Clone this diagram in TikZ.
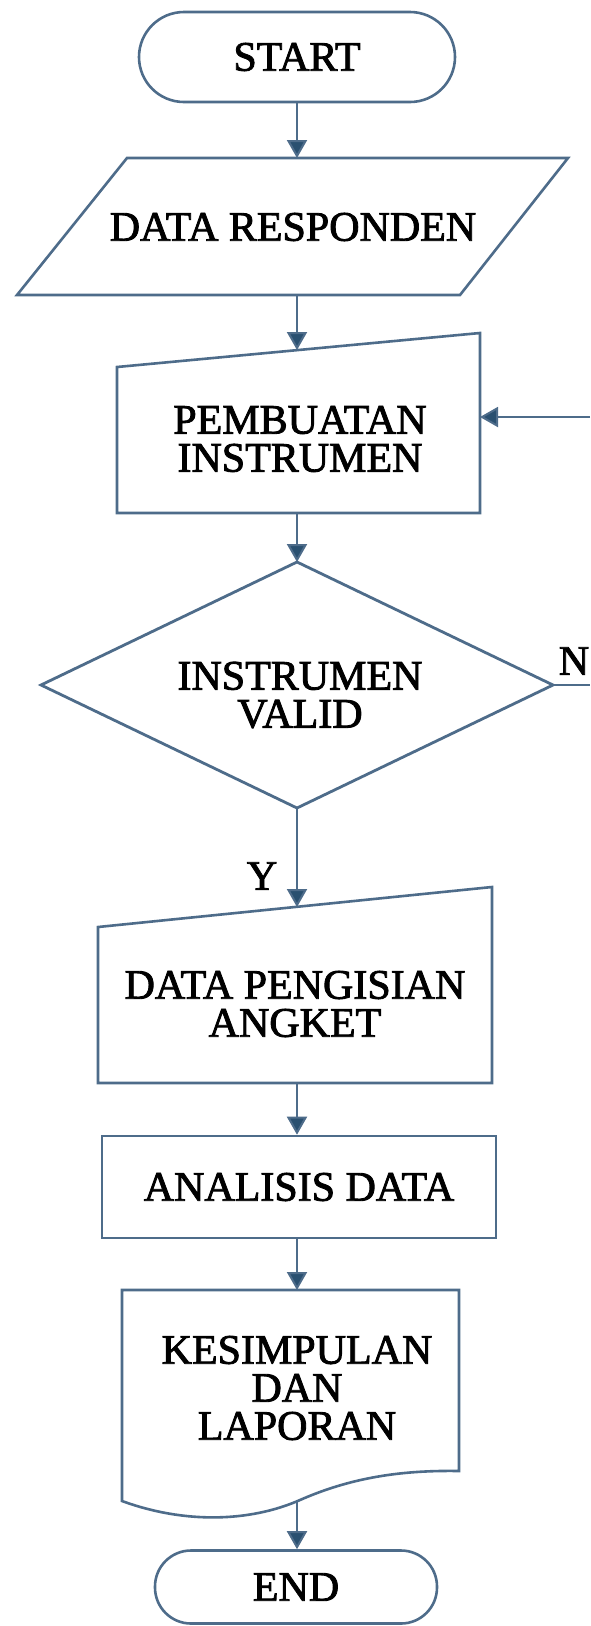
\documentclass[tikz,border=0pt]{standalone}
\usepackage{fontspec}
\setmainfont{Liberation Serif}
\newfontfamily\lblfont{Liberation Serif}[FakeBold=2]
\usetikzlibrary{arrows.meta}
\definecolor{linecol}{RGB}{78,108,138}
\definecolor{tipcol}{RGB}{42,80,112}
\begin{document}
\begin{tikzpicture}[x=1pt,y=-1pt,
  shapeline/.style={draw=linecol, line width=2.6pt, line join=miter},
  conn/.style={draw=linecol, line width=2pt, -{Triangle[width=20pt,length=18pt,fill=tipcol]}},
  plainconn/.style={draw=linecol, line width=2pt},
  lbl/.style={font=\lblfont\fontsize{42}{38}\selectfont, align=center, inner sep=0pt, text=black},
  pill/.style={shapeline, lbl, rounded corners=45pt}]
\fill[white] (0,0) rectangle (590,1626);
\useasboundingbox (0,0) rectangle (590,1626);

% START
\node[pill, minimum width=316pt, minimum height=90pt] (start) at (297,57) {START};

% DATA RESPONDEN (parallelogram)
\draw[shapeline] (17,295) -- (127,158) -- (568,158) -- (460,295) -- cycle;
\node[lbl] (resp) at (293,227) {DATA RESPONDEN};
\coordinate (resp-n) at (297,158);
\coordinate (resp-s) at (297,295);

% PEMBUATAN INSTRUMEN (manual input)
\draw[shapeline] (117,367) -- (480,333) -- (480,513) -- (117,513) -- cycle;
\node[lbl] (pemb) at (300,439) {PEMBUATAN\\INSTRUMEN};
\coordinate (pemb-n) at (297,350);
\coordinate (pemb-s) at (297,513);
\coordinate (pemb-e) at (480,417);

% INSTRUMEN VALID (decision)
\draw[shapeline, line width=2.8pt] (297,562) -- (553,685) -- (297,808) -- (41,685) -- cycle;
\node[lbl] (valid) at (300,695) {INSTRUMEN\\VALID};
\coordinate (valid-n) at (297,562);
\coordinate (valid-s) at (297,808);
\coordinate (valid-e) at (553,685);

% DATA PENGISIAN ANGKET (manual input)
\draw[shapeline] (98,927) -- (492,887) -- (492,1083) -- (98,1083) -- cycle;
\node[lbl] (peng) at (295,1004) {DATA PENGISIAN\\ANGKET};
\coordinate (peng-n) at (297,907);
\coordinate (peng-s) at (297,1083);

% ANALISIS DATA
\node[shapeline, lbl, minimum width=394pt, minimum height=102pt] (anal) at (299,1187) {ANALISIS DATA};

% KESIMPULAN DAN LAPORAN (document)
\draw[shapeline] (459,1471) -- (459,1290) -- (122,1290) -- (122,1501)
  .. controls (185,1524) and (250,1522) .. (300,1500)
  .. controls (350,1478) and (400,1470) .. (459,1471) -- cycle;
\node[lbl] (kes) at (297,1388) {KESIMPULAN\\DAN\\LAPORAN};
\coordinate (kes-n) at (297,1290);
\coordinate (kes-s) at (297,1501);

% END
\node[pill, rounded corners=36pt, minimum width=282pt, minimum height=73pt] (end) at (296,1587) {END};

% labels
\node[lbl] (nlab) at (574,661) {N};
\node[lbl] (ylab) at (262,876) {Y};

% connectors
\coordinate (ret-in) at (590,417);
\coordinate (ret-out) at (590,685);
\draw[conn] (start.south) -- (resp-n);
\draw[conn] (resp-s) -- (pemb-n);
\draw[conn] (pemb-s) -- (valid-n);
\draw[plainconn] (valid-e) -- (ret-out);
\draw[conn] (ret-in) -- (pemb-e);
\draw[conn] (valid-s) -- (peng-n);
\draw[conn] (peng-s) -- (peng-s |- anal.north);
\draw[conn] (kes-n |- anal.south) -- (kes-n);
\draw[conn] (kes-s) -- (kes-s |- end.north);
\end{tikzpicture}
\end{document}
